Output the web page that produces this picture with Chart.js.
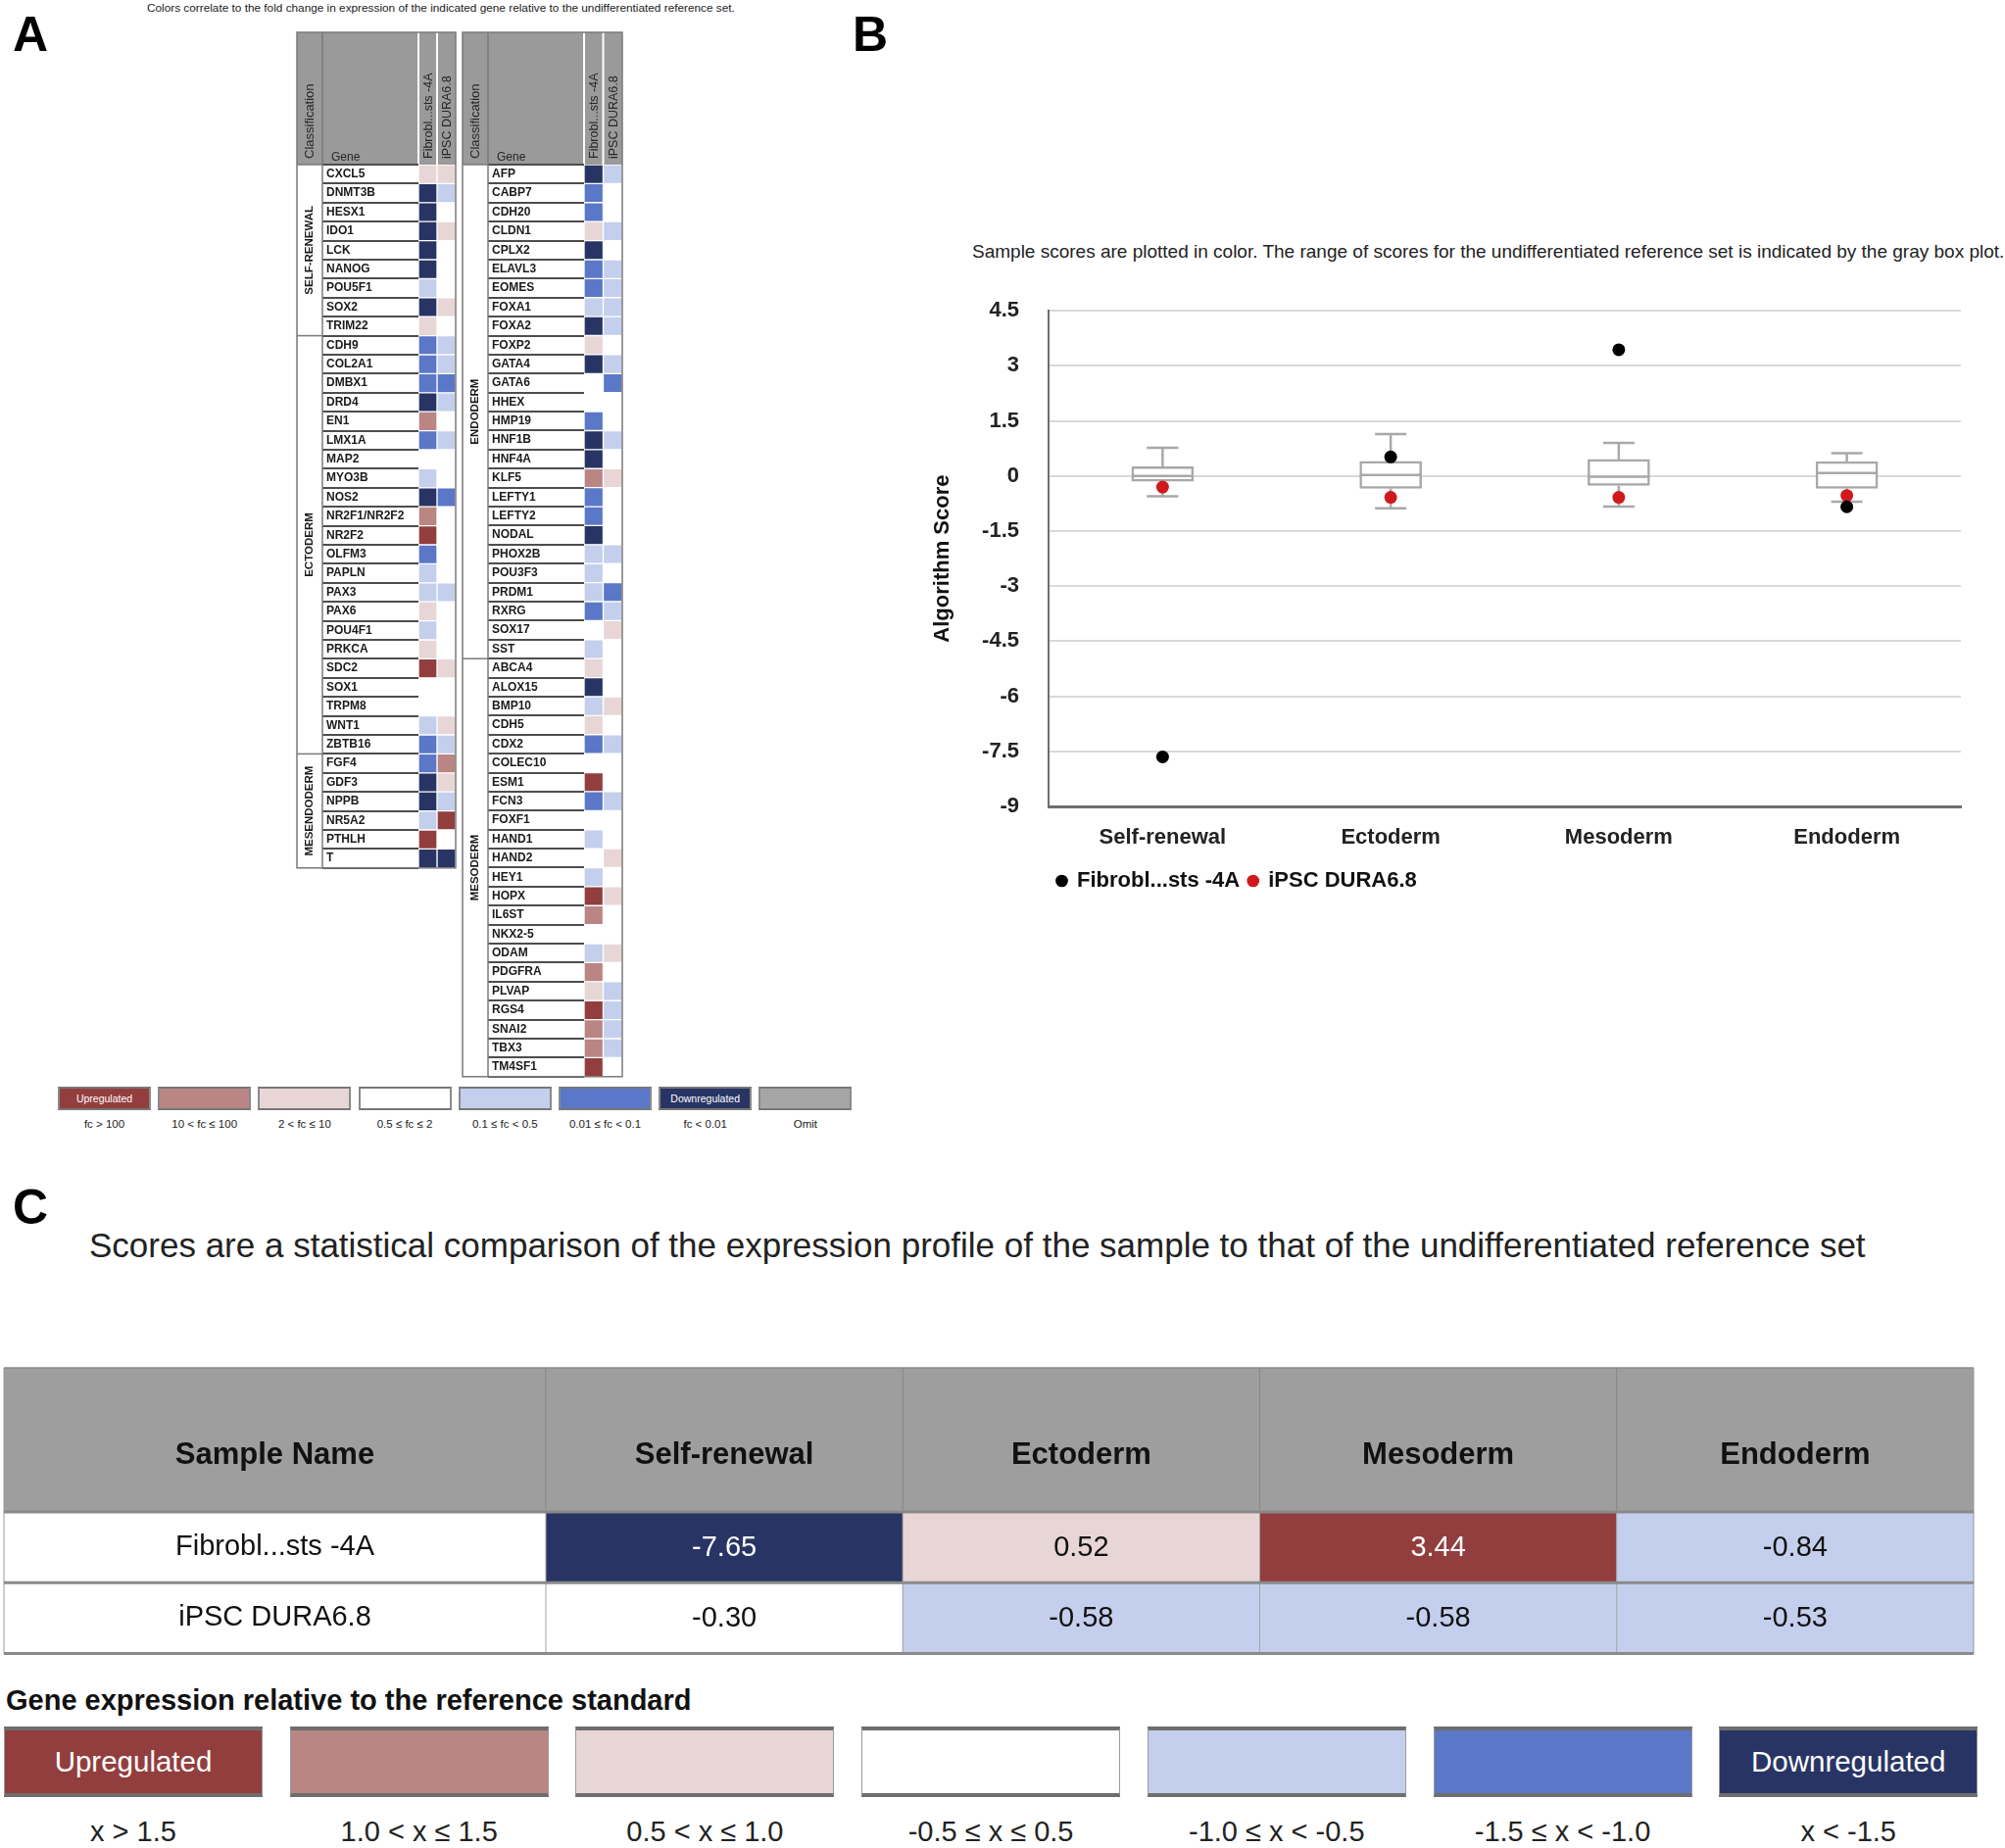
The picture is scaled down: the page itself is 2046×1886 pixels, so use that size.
<!DOCTYPE html>
<html>
<head>
<meta charset="utf-8">
<script src="https://cdn.jsdelivr.net/npm/chart.js@4.4.0/dist/chart.umd.min.js"></script>
<style>
  body { margin: 0; width: 2046px; height: 1886px; position: relative; background: #fff; overflow: hidden;
         font-family: 'Liberation Sans', Arial, sans-serif; color: #111; }
  .abs { position: absolute; }
  .panel { font-weight: bold; font-size: 50px; line-height: 50px; color: #000; }
  .swatch { position: absolute; box-sizing: border-box; display: flex; align-items: center; justify-content: center; color: #fff; }
  .swatch-label { position: absolute; text-align: center; white-space: nowrap; }
</style>
</head>
<body>
<div class="abs panel" style="left:13px;top:10px">A</div>
<div class="abs panel" style="left:870px;top:10px">B</div>
<div class="abs panel" style="left:13px;top:1207px">C</div>

<div class="abs" style="left:150px;top:1px;font-size:11.8px;color:#222">Colors correlate to the fold change in expression of the indicated gene relative to the undifferentiated reference set.</div>
<div class="abs" style="left:992px;top:246px;font-size:19px;color:#222">Sample scores are plotted in color. The range of scores for the undifferentiated reference set is indicated by the gray box plot.</div>
<div class="abs" style="left:91px;top:1251px;font-size:35px;color:#222">Scores are a statistical comparison of the expression profile of the sample to that of the undifferentiated reference set</div>
<div class="abs" style="left:6px;top:1719px;font-size:29px;font-weight:bold;color:#111">Gene expression relative to the reference standard</div>

<canvas id="heatLeft" class="abs" width="170" height="866" style="left:300px;top:30px"></canvas>
<canvas id="heatRight" class="abs" width="170" height="1079" style="left:470px;top:30px"></canvas>
<canvas id="scoreChart" class="abs" width="1075" height="646" style="left:945px;top:274px"></canvas>
<canvas id="scoreTable" class="abs" width="2046" height="315" style="left:0px;top:1390px"></canvas>
<div id="legendA"></div>
<div id="legendC"></div>

<script>
// ---- data ----
const sampleNames = ['Fibrobl...sts -4A', 'iPSC DURA6.8'];
const scoreCategories = ['Self-renewal', 'Ectoderm', 'Mesoderm', 'Endoderm'];

// fold change levels: 3 up ... 0 unchanged ... -3 down
const leftGenes = ['CXCL5', 'DNMT3B', 'HESX1', 'IDO1', 'LCK', 'NANOG', 'POU5F1', 'SOX2', 'TRIM22',
  'CDH9', 'COL2A1', 'DMBX1', 'DRD4', 'EN1', 'LMX1A', 'MAP2', 'MYO3B', 'NOS2', 'NR2F1/NR2F2', 'NR2F2',
  'OLFM3', 'PAPLN', 'PAX3', 'PAX6', 'POU4F1', 'PRKCA', 'SDC2', 'SOX1', 'TRPM8', 'WNT1', 'ZBTB16',
  'FGF4', 'GDF3', 'NPPB', 'NR5A2', 'PTHLH', 'T'];
const leftFibroLevels = [1, -3, -3, -3, -3, -3, -1, -3, 1,
  -2, -2, -2, -3, 2, -2, 0, -1, -3, 2, 3, -2, -1, -1, 1, -1, 1, 3, 0, 0, -1, -2,
  -2, -3, -3, -1, 3, -3];
const leftIpscLevels = [1, -1, 0, 1, 0, 0, 0, 1, 0,
  -1, -1, -2, -1, 0, -1, 0, 0, -2, 0, 0, 0, 0, -1, 0, 0, 0, 1, 0, 0, 1, -1,
  2, 1, -1, 3, 0, -3];
const leftGroupNames = ['SELF-RENEWAL', 'ECTODERM', 'MESENDODERM'];
const leftGroupSizes = [9, 22, 6];

const rightGenes = ['AFP', 'CABP7', 'CDH20', 'CLDN1', 'CPLX2', 'ELAVL3', 'EOMES', 'FOXA1', 'FOXA2', 'FOXP2',
  'GATA4', 'GATA6', 'HHEX', 'HMP19', 'HNF1B', 'HNF4A', 'KLF5', 'LEFTY1', 'LEFTY2', 'NODAL', 'PHOX2B',
  'POU3F3', 'PRDM1', 'RXRG', 'SOX17', 'SST',
  'ABCA4', 'ALOX15', 'BMP10', 'CDH5', 'CDX2', 'COLEC10', 'ESM1', 'FCN3', 'FOXF1', 'HAND1', 'HAND2',
  'HEY1', 'HOPX', 'IL6ST', 'NKX2-5', 'ODAM', 'PDGFRA', 'PLVAP', 'RGS4', 'SNAI2', 'TBX3', 'TM4SF1'];
const rightFibroLevels = [-3, -2, -2, 1, -3, -2, -2, -1, -3, 1, -3, 0, 0, -2, -3, -3, 2, -2, -2, -3, -1, -1, -1, -2, 0, -1,
  1, -3, -1, 1, -2, 0, 3, -2, 0, -1, 0, -1, 3, 2, 0, -1, 2, 1, 3, 2, 2, 3];
const rightIpscLevels = [-1, 0, 0, -1, 0, -1, -1, -1, -1, 0, -1, -2, 0, 0, -1, 0, 1, 0, 0, 0, -1, 0, -2, -1, 1, 0,
  0, 0, 1, 0, -1, 0, 0, -1, 0, 0, 1, 0, 1, 0, 0, 1, 0, -1, -1, -1, -1, 0];
const rightGroupNames = ['ENDODERM', 'MESODERM'];
const rightGroupSizes = [26, 22];

// panel B: reference-set box plot and sample scores
const boxMin = [-0.55, -0.88, -0.83, -0.70];
const boxQ1 = [-0.14, -0.34, -0.26, -0.34];
const boxMedian = [0.0, 0.03, -0.02, 0.08];
const boxQ3 = [0.25, 0.40, 0.45, 0.39];
const boxMax = [0.77, 1.14, 0.90, 0.62];
const fibroScores = [-7.65, 0.52, 3.44, -0.84];
const ipscScores = [-0.30, -0.58, -0.58, -0.53];
const scoreTicks = [4.5, 3, 1.5, 0, -1.5, -3, -4.5, -6, -7.5, -9];

// legends
const foldLegendLabels = ['fc > 100', '10 < fc ≤ 100', '2 < fc ≤ 10', '0.5 ≤ fc ≤ 2', '0.1 ≤ fc < 0.5', '0.01 ≤ fc < 0.1', 'fc < 0.01', 'Omit'];
const scoreLegendLabels = ['x > 1.5', '1.0 < x ≤ 1.5', '0.5 < x ≤ 1.0', '-0.5 ≤ x ≤ 0.5', '-1.0 ≤ x < -0.5', '-1.5 ≤ x < -1.0', 'x < -1.5'];

// ---- styling ----
const FONT = "'Liberation Sans', Arial, sans-serif";
const levelColors = { '3': '#923e3e', '2': '#b98684', '1': '#e8d6d7', '0': '#ffffff', '-1': '#c3cfec', '-2': '#5b77c7', '-3': '#283564' };
const omitColor = '#a6a6a6';
const boxColor = '#a8a8a8';

function scoreLevel(v) {
  if (v > 1.5) return 3;
  if (v > 1.0) return 2;
  if (v > 0.5) return 1;
  if (v >= -0.5) return 0;
  if (v >= -1.0) return -1;
  if (v >= -1.5) return -2;
  return -3;
}

// ---- panel A heatmaps ----
const heatFrame = {
  id: 'heatFrame',
  beforeDraw(chart, args, opts) {
    const { ctx, chartArea: a, scales: { x, y } } = chart;
    const geneLeft = y.left - 4;
    const classLeft = geneLeft - 26;
    const headTop = a.top - 135;
    ctx.save();
    ctx.fillStyle = '#9a9a9a';
    ctx.fillRect(classLeft, headTop, a.right - classLeft, a.top - headTop);
    ctx.strokeStyle = '#ffffff';
    ctx.lineWidth = 2;
    [0, 1].forEach(v => {
      const px = x.getPixelForValue(v);
      ctx.beginPath(); ctx.moveTo(px, headTop); ctx.lineTo(px, a.top); ctx.stroke();
    });
    ctx.fillStyle = '#262626';
    ctx.textBaseline = 'middle';
    ctx.textAlign = 'left';
    const rotText = (t, cx) => {
      ctx.save(); ctx.translate(cx, a.top - 6); ctx.rotate(-Math.PI / 2); ctx.fillText(t, 0, 0); ctx.restore();
    };
    ctx.font = `13px ${FONT}`;
    rotText('Classification', classLeft + 13);
    ctx.font = `12.5px ${FONT}`;
    sampleNames.forEach((n, i) => rotText(n, x.getPixelForValue(i + 0.5) + 1));
    ctx.font = `12px ${FONT}`;
    ctx.textBaseline = 'alphabetic';
    ctx.fillText('Gene', geneLeft + 9, a.top - 4);
    ctx.restore();
  },
  afterDraw(chart, args, opts) {
    const { ctx, chartArea: a, scales: { y } } = chart;
    const geneLeft = y.left - 4;
    const classLeft = geneLeft - 26;
    const headTop = a.top - 135;
    ctx.save();
    ctx.strokeStyle = '#7a7a7a';
    ctx.lineWidth = 1.5;
    ctx.strokeRect(classLeft, headTop, a.right - classLeft, a.bottom - headTop);
    ctx.beginPath(); ctx.moveTo(geneLeft, headTop); ctx.lineTo(geneLeft, a.bottom); ctx.stroke();
    // group separators and labels
    let start = 0;
    ctx.fillStyle = '#1a1a1a';
    ctx.font = `bold 11.5px ${FONT}`;
    ctx.textAlign = 'center';
    ctx.textBaseline = 'middle';
    opts.groupSizes.forEach((n, g) => {
      const top = start === 0 ? a.top : (y.getPixelForValue(start - 1) + y.getPixelForValue(start)) / 2;
      const end = start + n;
      const bottom = end >= y.ticks.length ? a.bottom : (y.getPixelForValue(end - 1) + y.getPixelForValue(end)) / 2;
      ctx.beginPath(); ctx.moveTo(classLeft, top); ctx.lineTo(geneLeft, top); ctx.stroke();
      ctx.save();
      ctx.translate(classLeft + 13, (top + bottom) / 2);
      ctx.rotate(-Math.PI / 2);
      ctx.fillText(opts.groupNames[g], 0, 0);
      ctx.restore();
      start = end;
    });
    ctx.restore();
  }
};

function makeHeatmap(id, genes, fibro, ipsc, groupNames, groupSizes, padLeft) {
  new Chart(document.getElementById(id), {
    type: 'bar',
    data: {
      labels: genes,
      datasets: [fibro, ipsc].map((levels, i) => ({
        label: sampleNames[i],
        data: genes.map(() => [i, i + 1]),
        backgroundColor: levels.map(l => levelColors[l]),
        borderColor: '#ffffff',
        borderWidth: 1,
        borderSkipped: false,
        grouped: false,
        barPercentage: 1,
        categoryPercentage: 1
      }))
    },
    options: {
      indexAxis: 'y',
      responsive: false,
      animation: false,
      layout: { padding: { top: 138, bottom: 0, left: padLeft, right: 5 } },
      plugins: { legend: { display: false }, tooltip: { enabled: false }, heatFrame: { groupNames, groupSizes } },
      scales: {
        x: { type: 'linear', min: 0, max: 2, display: false },
        y: {
          grid: { drawOnChartArea: false, tickLength: 98, color: '#4d4d4d', lineWidth: 2, offset: true },
          border: { display: false },
          ticks: { autoSkip: false, crossAlign: 'far', color: '#1a1a1a', font: { family: FONT, size: 12, weight: 'bold' } },
          afterFit(scale) { scale.width = 94; }
        }
      }
    },
    plugins: [heatFrame]
  });
}

makeHeatmap('heatLeft', leftGenes, leftFibroLevels, leftIpscLevels, leftGroupNames, leftGroupSizes, 33);
makeHeatmap('heatRight', rightGenes, rightFibroLevels, rightIpscLevels, rightGroupNames, rightGroupSizes, 32);

// ---- panel B box plot ----
const boxWhiskers = {
  id: 'boxWhiskers',
  afterDatasetDraw(chart, args) {
    if (args.index !== 0) return;
    const { ctx, scales: { x, y } } = chart;
    const bars = chart.getDatasetMeta(0).data;
    ctx.save();
    ctx.strokeStyle = boxColor;
    ctx.lineWidth = 2.5;
    const seg = (x1, y1, x2, y2) => { ctx.beginPath(); ctx.moveTo(x1, y1); ctx.lineTo(x2, y2); ctx.stroke(); };
    scoreCategories.forEach((c, i) => {
      const cx = x.getPixelForValue(i);
      const half = bars[i].width / 2;
      const cap = 16;
      seg(cx, y.getPixelForValue(boxMax[i]), cx, y.getPixelForValue(boxQ3[i]));
      seg(cx, y.getPixelForValue(boxMin[i]), cx, y.getPixelForValue(boxQ1[i]));
      seg(cx - cap, y.getPixelForValue(boxMax[i]), cx + cap, y.getPixelForValue(boxMax[i]));
      seg(cx - cap, y.getPixelForValue(boxMin[i]), cx + cap, y.getPixelForValue(boxMin[i]));
      seg(cx - half, y.getPixelForValue(boxMedian[i]), cx + half, y.getPixelForValue(boxMedian[i]));
    });
    ctx.restore();
  }
};

new Chart(document.getElementById('scoreChart'), {
  type: 'bar',
  data: {
    labels: scoreCategories,
    datasets: [
      {
        label: 'Reference set',
        data: scoreCategories.map((c, i) => [boxQ1[i], boxQ3[i]]),
        backgroundColor: '#ffffff',
        borderColor: boxColor,
        borderWidth: 2.5,
        borderSkipped: false,
        barThickness: 63,
        order: 3
      },
      {
        type: 'line',
        label: sampleNames[0],
        data: fibroScores,
        showLine: false,
        pointRadius: 6.5,
        pointBackgroundColor: '#000000',
        pointBorderWidth: 0,
        order: 1
      },
      {
        type: 'line',
        label: sampleNames[1],
        data: ipscScores,
        showLine: false,
        pointRadius: 6.5,
        pointBackgroundColor: '#d0191c',
        pointBorderWidth: 0,
        order: 2
      }
    ]
  },
  options: {
    responsive: false,
    animation: false,
    layout: { padding: { top: 23, right: 19, left: 0, bottom: 0 } },
    plugins: {
      tooltip: { enabled: false },
      legend: {
        position: 'bottom',
        align: 'start',
        fullSize: false,
        labels: {
          usePointStyle: true,
          pointStyle: 'circle',
          boxWidth: 9,
          boxHeight: 9,
          padding: 9,
          color: '#111',
          font: { family: FONT, size: 22, weight: 'bold' },
          filter: item => item.datasetIndex !== 0
        }
      }
    },
    scales: {
      x: {
        grid: { display: false },
        border: { display: true, color: '#6e6e6e', width: 3 },
        ticks: { padding: 13, color: '#222', font: { family: FONT, size: 22, weight: 'bold', lineHeight: 1 } }
      },
      y: {
        min: -9,
        max: 4.5,
        afterBuildTicks(scale) { scale.ticks = scoreTicks.map(v => ({ value: v })); },
        grid: {
          drawTicks: false,
          color: c => (c.tick && c.tick.value === -9 ? '#6e6e6e' : '#d9d9d9'),
          lineWidth: c => (c.tick && c.tick.value === -9 ? 3 : 2)
        },
        border: { display: true, color: '#6e6e6e', width: 2 },
        ticks: { padding: 30, color: '#222', font: { family: FONT, size: 22, weight: 'bold' } },
        title: { display: true, text: 'Algorithm Score', color: '#111', padding: { top: 4, bottom: 0 }, font: { family: FONT, size: 22, weight: 'bold' } },
        afterFit(scale) { scale.width = 125; }
      }
    }
  },
  plugins: [boxWhiskers]
});

// ---- panel C score table ----
const tableFont = 29;
const headerHeight = 147;
const measureCtx = document.createElement('canvas').getContext('2d');
measureCtx.font = `${tableFont}px ${FONT}`;
const widestName = Math.max(...sampleNames.map(n => measureCtx.measureText(n).width));
const nameColWidth = 553;

const tableFrame = {
  id: 'tableFrame',
  beforeDraw(chart) {
    const { ctx, chartArea: a, scales: { x, y } } = chart;
    const top = a.top - headerHeight;
    ctx.save();
    ctx.fillStyle = '#9e9e9e';
    ctx.fillRect(y.left, top, a.right - y.left, headerHeight);
    ctx.fillStyle = '#111';
    ctx.font = `bold 31px ${FONT}`;
    ctx.textAlign = 'center';
    ctx.textBaseline = 'middle';
    const labelY = a.top - 58;
    ctx.fillText('Sample Name', (y.left + y.right) / 2, labelY);
    scoreCategories.forEach((c, i) => ctx.fillText(c, x.getPixelForValue(i), labelY));
    ctx.restore();
  },
  afterDatasetsDraw(chart) {
    const { ctx, chartArea: a, scales: { x, y } } = chart;
    const top = a.top - headerHeight;
    ctx.save();
    // column separators
    const bounds = [a.left];
    for (let i = 0; i < scoreCategories.length - 1; i++) bounds.push((x.getPixelForValue(i) + x.getPixelForValue(i + 1)) / 2);
    ctx.lineWidth = 1;
    bounds.forEach(px => {
      ctx.strokeStyle = '#858585';
      ctx.beginPath(); ctx.moveTo(px, top); ctx.lineTo(px, a.top); ctx.stroke();
      ctx.strokeStyle = '#a3a3a3';
      ctx.beginPath(); ctx.moveTo(px, a.top); ctx.lineTo(px, a.bottom); ctx.stroke();
    });
    // outer sides
    ctx.strokeStyle = '#9a9a9a';
    [y.left, a.right].forEach(px => { ctx.beginPath(); ctx.moveTo(px, top); ctx.lineTo(px, a.bottom); ctx.stroke(); });
    // row separators
    ctx.strokeStyle = '#8a8a8a';
    ctx.lineWidth = 3;
    [0, 1, 2].forEach(v => {
      const py = y.getPixelForValue(v);
      ctx.beginPath(); ctx.moveTo(y.left, py); ctx.lineTo(a.right, py); ctx.stroke();
    });
    ctx.lineWidth = 1.5;
    ctx.beginPath(); ctx.moveTo(y.left, top); ctx.lineTo(a.right, top); ctx.stroke();
    // values
    ctx.font = `${tableFont}px ${FONT}`;
    ctx.textAlign = 'center';
    ctx.textBaseline = 'middle';
    [fibroScores, ipscScores].forEach((scores, r) => {
      chart.getDatasetMeta(r).data.forEach((bar, i) => {
        const lvl = scoreLevel(scores[i]);
        ctx.fillStyle = Math.abs(lvl) === 3 ? '#ffffff' : '#111';
        ctx.fillText(scores[i].toFixed(2), bar.x, (bar.y + bar.base) / 2 + 1);
      });
    });
    ctx.restore();
  }
};

new Chart(document.getElementById('scoreTable'), {
  type: 'bar',
  data: {
    labels: scoreCategories,
    datasets: [fibroScores, ipscScores].map((scores, r) => ({
      label: sampleNames[r],
      data: scores.map(() => [r, r + 1]),
      backgroundColor: scores.map(v => levelColors[scoreLevel(v)]),
      borderWidth: 0,
      grouped: false,
      barPercentage: 1,
      categoryPercentage: 1
    }))
  },
  options: {
    responsive: false,
    animation: false,
    layout: { padding: { top: 6 + headerHeight, left: 4, right: 32, bottom: 0 } },
    plugins: { legend: { display: false }, tooltip: { enabled: false }, tableFrame: {} },
    scales: {
      x: { display: false },
      y: {
        min: 0,
        max: 2,
        reverse: true,
        afterBuildTicks(scale) { scale.ticks = [0, 0.5, 1, 1.5, 2].map(v => ({ value: v })); },
        // invisible tick marks push the centred names into the middle of the first column
        grid: { display: true, drawOnChartArea: false, drawTicks: true, color: 'rgba(0,0,0,0)',
                tickLength: nameColWidth / 2 - widestName / 2 },
        border: { display: false },
        ticks: {
          autoSkip: false,
          crossAlign: 'center',
          padding: 0,
          color: '#111',
          font: { family: FONT, size: tableFont },
          callback: v => (v === 0.5 ? sampleNames[0] : v === 1.5 ? sampleNames[1] : '')
        },
        afterFit(scale) { scale.width = nameColWidth; }
      }
    }
  },
  plugins: [tableFrame]
});

// ---- colour keys ----
function buildKey(containerId, labels, colors, opts) {
  const box = document.getElementById(containerId);
  labels.forEach((text, k) => {
    const left = opts.left + k * opts.step;
    const sw = document.createElement('div');
    sw.className = 'swatch';
    Object.assign(sw.style, {
      left: left + 'px', top: opts.top + 'px', width: opts.w + 'px', height: opts.h + 'px',
      background: colors[k], border: opts.border, borderTop: opts.borderTB, borderBottom: opts.borderTB,
      fontSize: opts.innerSize + 'px', fontFamily: FONT
    });
    if (k === 0) sw.textContent = 'Upregulated';
    if (colors[k] === levelColors['-3']) sw.textContent = 'Downregulated';
    box.appendChild(sw);
    const lb = document.createElement('div');
    lb.className = 'swatch-label';
    Object.assign(lb.style, {
      left: left + 'px', width: opts.w + 'px', top: opts.labelTop + 'px', fontSize: opts.labelSize + 'px', color: '#222'
    });
    lb.textContent = text;
    box.appendChild(lb);
  });
}

buildKey('legendA', foldLegendLabels, [3, 2, 1, 0, -1, -2, -3].map(l => levelColors[l]).concat(omitColor), {
  left: 59, step: 102.2, top: 1109, w: 95, h: 24, border: '2px solid #8a8a8a', borderTB: '2px solid #777',
  innerSize: 10.5, labelTop: 1141, labelSize: 11.5
});
buildKey('legendC', scoreLegendLabels, [3, 2, 1, 0, -1, -2, -3].map(l => levelColors[l]), {
  left: 4, step: 291.7, top: 1762, w: 264, h: 72, border: '1px solid #9a9a9a', borderTB: '4px solid #6e6e6e',
  innerSize: 29.5, labelTop: 1853, labelSize: 29
});
</script>
</body>
</html>
